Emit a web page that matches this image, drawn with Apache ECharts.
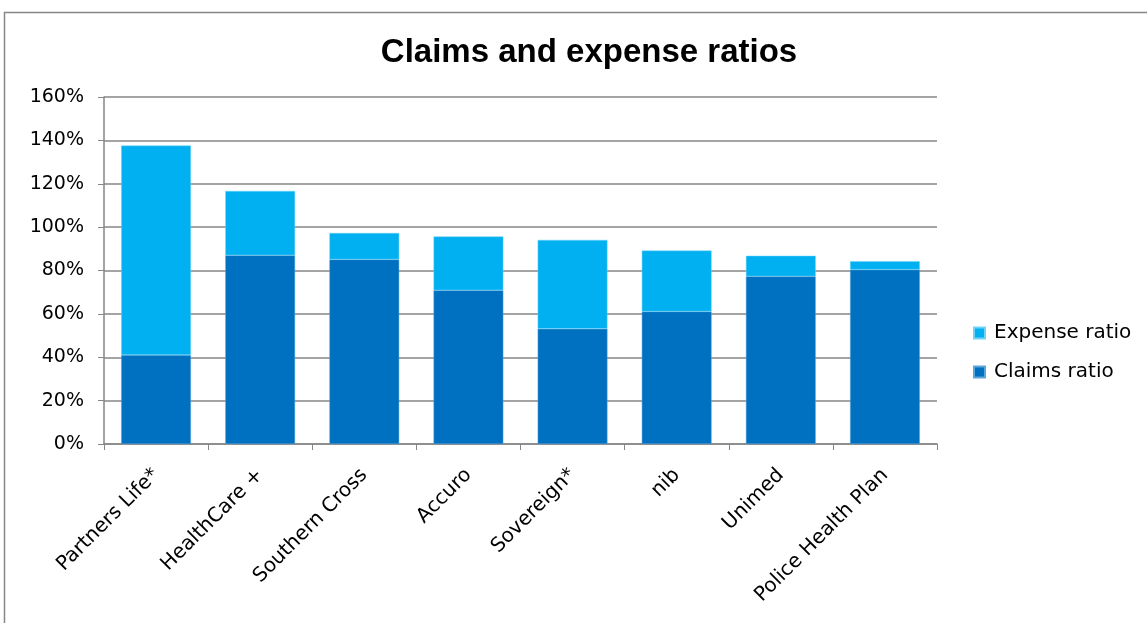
<!DOCTYPE html>
<html>
<head>
<meta charset="utf-8">
<script src="https://cdn.jsdelivr.net/npm/echarts@6/dist/echarts.min.js"></script>
<style>html,body{margin:0;padding:0;background:#fff}#c{width:1147px;height:623px}</style>
</head>
<body>
<div id="c"></div>
<script>
const categories = ['Partners Life*', 'HealthCare +', 'Southern Cross', 'Accuro', 'Sovereign*', 'nib', 'Unimed', 'Police Health Plan'];
const claimsRatio = [41.0, 87.0, 85.1, 70.9, 53.1, 61.1, 77.3, 80.4];
const expenseRatio = [96.6, 29.7, 12.2, 24.8, 41.0, 28.1, 9.5, 3.9];
const yTicks = [0, 20, 40, 60, 80, 100, 120, 140, 160];

const chart = echarts.init(document.getElementById('c'));
const font = 'DejaVu Sans, sans-serif';
chart.setOption({
  animation: false,
  title: {
    text: 'Claims and expense ratios',
    left: 584, top: 31, textAlign: 'center',
    textStyle: { fontFamily: 'Liberation Sans, Arial, sans-serif', fontSize: 33, fontWeight: 'bold', color: '#000' }
  },
  graphic: [{
    type: 'rect', shape: { x: 4.5, y: 12.5, width: 1160, height: 640 },
    style: { fill: 'none', stroke: '#868686', lineWidth: 1.5 }, silent: true, z: -1
  }],
  legend: {
    orient: 'vertical', left: 973, top: 323, padding: 0,
    data: ['Expense ratio', 'Claims ratio'],
    itemWidth: 11, itemHeight: 11, itemGap: 19,
    icon: 'rect',
    textStyle: { fontFamily: font, fontSize: 20, color: '#000', padding: [0, 0, 0, 4] }
  },
  grid: { left: 104, right: 210, top: 97, bottom: 179, containLabel: false },
  xAxis: {
    type: 'category', data: categories,
    axisLine: { lineStyle: { color: '#868686', width: 1.5 } },
    axisTick: { show: true, length: 6, lineStyle: { color: '#868686' }, alignWithLabel: false },
    axisLabel: { rotate: 45, interval: 0, fontFamily: font, fontSize: 20, color: '#000', margin: 28 }
  },
  yAxis: {
    type: 'value', min: yTicks[0], max: yTicks[yTicks.length - 1], interval: 20,
    axisLine: { show: true, lineStyle: { color: '#868686', width: 1.5 } },
    axisTick: { show: true, length: 6, lineStyle: { color: '#868686' } },
    splitLine: { lineStyle: { color: '#868686', width: 1.5 } },
    axisLabel: { formatter: v => v + '%', fontFamily: font, fontSize: 19, color: '#000', margin: 20 }
  },
  series: [
    { name: 'Claims ratio', type: 'bar', stack: 's', data: claimsRatio, barCategoryGap: '33%',
      itemStyle: { color: '#0070C0', borderColor: '#5aa7dc', borderWidth: 0.5 } },
    { name: 'Expense ratio', type: 'bar', stack: 's', data: expenseRatio, barCategoryGap: '33%',
      itemStyle: { color: '#00B0F0', borderColor: '#6fd3f7', borderWidth: 0.5 } }
  ]
});
</script>
</body>
</html>
